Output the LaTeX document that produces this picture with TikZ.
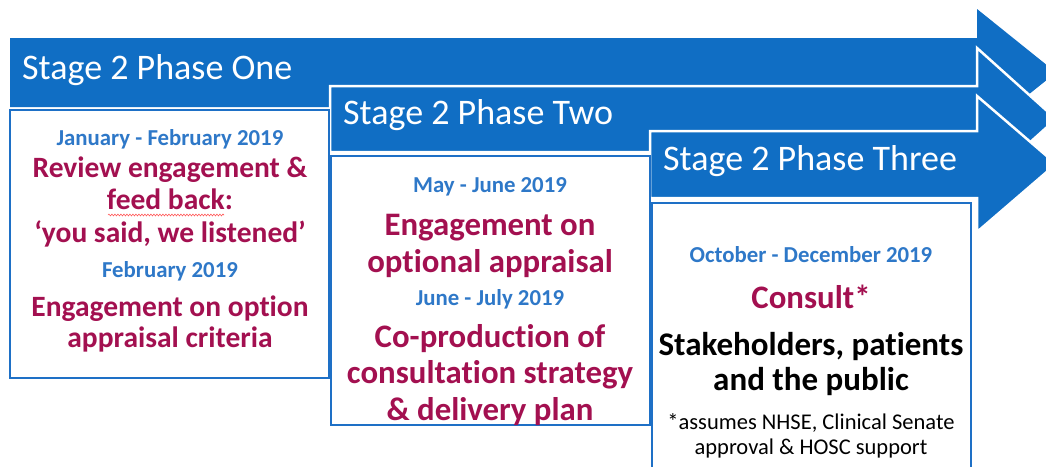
\documentclass[tikz,border=0pt]{standalone}
\usepackage{fontspec}
\setmainfont{Carlito}[Ligatures={NoCommon}]
\usetikzlibrary{decorations.pathmorphing}
\definecolor{arrowblue}{RGB}{16,110,196}
\definecolor{boxblue}{RGB}{30,112,198}
\definecolor{dateblue}{RGB}{46,120,200}
\definecolor{maroon}{RGB}{163,16,80}
\tikzset{
 lbl/.style={inner sep=0pt, anchor=base},
 datetxt/.style={lbl, text=dateblue, font=\bfseries\fontsize{22.8}{26}\selectfont},
 redA/.style={lbl, text=maroon, font=\bfseries\fontsize{29.5}{33}\selectfont},
 redB/.style={lbl, text=maroon, font=\bfseries\fontsize{32.8}{36}\selectfont},
 blk/.style={lbl, text=black, font=\bfseries\fontsize{33}{36}\selectfont},
 note/.style={lbl, text=black, font=\fontsize{22.5}{25}\selectfont},
 stagetxt/.style={inner sep=0pt, anchor=base west, text=white, font=\fontsize{36}{40}\selectfont},
 arrowshape/.style={fill=arrowblue},
 arrowover/.style={fill=arrowblue, draw=white, line width=2.5pt, line join=miter},
 phasebox/.style={draw=boxblue, line width=2.2pt, fill=white},
 squiggle/.style={draw=red!65, line width=0.6pt, decorate, decoration={snake, amplitude=0.9pt, segment length=3pt}},
}
\begin{document}
\begin{tikzpicture}[x=1pt,y=-1pt]
\useasboundingbox (0,0) rectangle (1046,466);
\clip (0,0) rectangle (1046,466);
\fill[white] (0,0) rectangle (1046,466);

% arrows
\path[arrowshape] (10,38) -- (977,38) -- (977,9) -- (1056,72.5) -- (977,136) -- (977,107) -- (10,107) -- cycle;
\path[arrowover] (330,86) -- (977,86) -- (977,48) -- (1056,119) -- (977,190) -- (977,152) -- (330,152) -- cycle;
\path[arrowover] (650,131) -- (977,131) -- (977,96) -- (1056,164) -- (977,232) -- (977,198) -- (650,198) -- cycle;

\node[stagetxt] (s1) at (22,79) {Stage 2 Phase One};
\node[stagetxt] (s2) at (343,124) {Stage 2 Phase Two};
\node[stagetxt] (s3) at (663,170) {Stage 2 Phase Three};

% boxes
\draw[phasebox] (10,110) rectangle (329,378);
\draw[phasebox] (331,156) rectangle (650,425);
\draw[phasebox] (652,203) rectangle (971,480);

% box 1
\node[datetxt] (d1) at (170,145) {January - February 2019};
\node[redA] (r1a) at (170,177) {Review engagement \&};
\node[redA] (r1b) at (170,209) {feed back:};
\node[redA] (r1c) at (170,242) {‘you said, we listened’};
\node[datetxt] (d2) at (170,277) {February 2019};
\node[redA] (r1d) at (170,316) {Engagement on option};
\node[redA] (r1e) at (170,347) {appraisal criteria};
\draw[squiggle] (108,215) -- (224,215);

% box 2
\node[datetxt] (d3) at (490,192) {May - June 2019};
\node[redB] (r2a) at (490,235) {Engagement on};
\node[redB] (r2b) at (490,272) {optional appraisal};
\node[datetxt] (d4) at (490,305) {June - July 2019};
\node[redB] (r2c) at (490,347) {Co-production of};
\node[redB] (r2d) at (490,383) {consultation strategy};
\node[redB] (r2e) at (490,420) {\& delivery plan};

% box 3
\node[datetxt] (d5) at (811,262) {October - December 2019};
\node[redB] (r3a) at (811,308) {Consult*};
\node[blk] (b3a) at (811,355) {Stakeholders, patients};
\node[blk] (b3b) at (811,390) {and the public};
\node[note] (n3a) at (811,429) {*assumes NHSE, Clinical Senate};
\node[note] (n3b) at (811,454) {approval \& HOSC support};
\end{tikzpicture}
\end{document}
